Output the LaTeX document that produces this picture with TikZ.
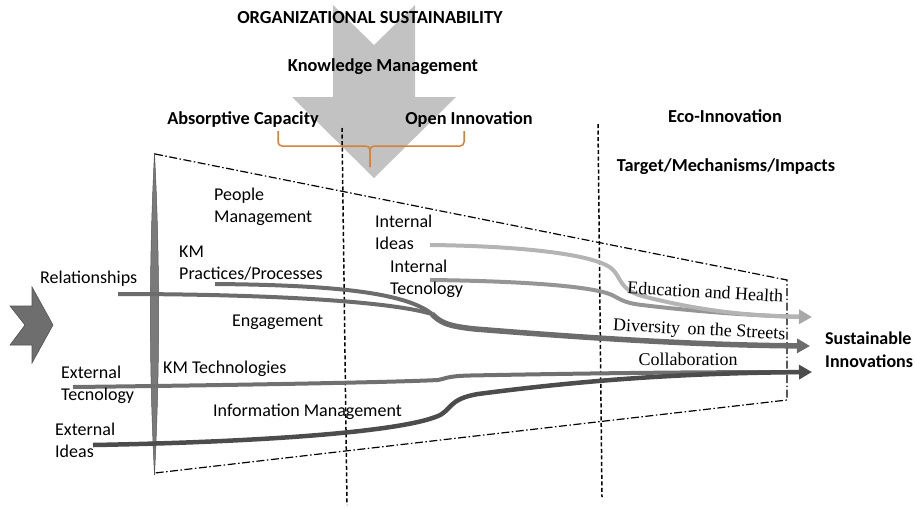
\documentclass[tikz,border=0pt]{standalone}
\usepackage{fontspec}
\setmainfont{Carlito}
\newfontfamily\outcomefont{Liberation Serif}
\usetikzlibrary{arrows.meta}

\definecolor{arrowgray}{HTML}{C2C2C2}
\definecolor{braceorange}{HTML}{D4823A}
\definecolor{lensgray}{HTML}{7A7A7A}
\definecolor{chevgray}{HTML}{6E6E6E}
\definecolor{cLight}{HTML}{B4B4B4}
\definecolor{cLightTip}{HTML}{A8A8A8}
\definecolor{cMid}{HTML}{959595}
\definecolor{cRel}{HTML}{6C6C6C}
\definecolor{cTech}{HTML}{707070}
\definecolor{cDark}{HTML}{4C4C4C}

\begin{document}
\begin{tikzpicture}[x=1pt,y=-1pt,
  lbl/.style={font=\fontsize{18}{21.5}\selectfont, inner sep=0pt, align=left, anchor=base west},
  ttl/.style={font=\fontsize{18.3}{21.5}\selectfont\bfseries, inner sep=0pt, anchor=base},
  outcome/.style={font=\outcomefont\fontsize{18}{21.5}\selectfont, inner sep=0pt, anchor=base},
  stream/.style={line width=4pt, line cap=butt},
  trunk/.style={line width=5.5pt, line cap=butt},
  tip/.style={-{Triangle[length=13pt,width=14pt]}},
  phase/.style={line width=1.5pt, dash pattern=on 4pt off 2.5pt},
  funnel/.style={line width=1.2pt, dash pattern=on 8pt off 2.5pt on 1.5pt off 2.5pt},
  brace/.style={draw=braceorange, line width=1.5pt, rounded corners=4pt}
]
\useasboundingbox (0,0) rectangle (915,507);

% big downward arrow of organizational sustainability
\fill[arrowgray] (333,5) -- (374,45) -- (415,5) -- (415,97) -- (456,97)
  -- (374,178) -- (292,97) -- (333,97) -- cycle;

% headings
\node[ttl, font=\fontsize{18.4}{20}\selectfont\bfseries] (orgsus) at (370,23) {ORGANIZATIONAL SUSTAINABILITY};
\node[ttl] (kmgmt) at (383,71) {Knowledge Management};
\node[ttl] (absorb) at (243,124) {Absorptive Capacity};
\node[ttl] (openinn) at (469,124) {Open Innovation};
\node[ttl] (ecoinn) at (725,122) {Eco-Innovation};
\node[ttl] (target) at (726,171) {Target/Mechanisms/Impacts};

% orange brace joining absorptive capacity and open innovation
\coordinate (brL) at (278,131);
\coordinate (brR) at (464,131);
\coordinate (brTip) at (370,167);
\draw[brace] (brL) -- (278,146) -- (370,146) -- (brTip);
\draw[brace] (brR) -- (464,146) -- (370,146) -- (brTip);

% phase separators
\coordinate (p1t) at (342,128);
\coordinate (p1b) at (347,505);
\coordinate (p2t) at (598,124);
\coordinate (p2b) at (602,497);
\draw[phase] (p1t) -- (p1b);
\draw[phase] (p2t) -- (p2b);

% funnel outline
\coordinate (fTL) at (155,154);
\coordinate (fTR) at (787,280);
\coordinate (fBR) at (787,400);
\coordinate (fBL) at (155,473);
\draw[funnel] (fTL) -- (fTR) -- (fBR) -- (fBL);

% lens at the funnel mouth
\filldraw[fill=lensgray, draw=lensgray!70!black, line width=0.5pt]
  (154.5,153) .. controls (160,260) and (160,368) .. (154.5,475)
  .. controls (149,368) and (149,260) .. cycle;

% entry chevron
\filldraw[fill=chevgray, draw=chevgray!75!black, line width=0.6pt]
  (10,306) -- (32,306) -- (32,287) -- (53,325) -- (32,363) -- (32,345)
  -- (10,345) -- (25,325) -- cycle;

% stream end points
\coordinate (relS) at (118,294);
\coordinate (kmpS) at (215,284);
\coordinate (merge) at (432,314);
\coordinate (iiS) at (430,245);
\coordinate (itS) at (430,280);
\coordinate (etS) at (73,387);
\coordinate (eiS) at (93,445);
\coordinate (tipEdu) at (812,317);
\coordinate (tipDiv) at (810,346);
\coordinate (tipCol) at (812,372);

% internal technology and internal ideas
\draw[stream, cMid, shorten >=11pt] (itS) .. controls (520,281) and (592,286) .. (612,295)
  .. controls (620,299) and (624,303) .. (642,305)
  .. controls (700,312) and (760,316) .. (tipEdu);
\draw[stream, cLight, -{Triangle[length=13pt,width=14pt,color=cLightTip]}]
  (iiS) .. controls (520,246) and (592,254) .. (611,268)
  .. controls (622,277) and (618,289) .. (642,296)
  .. controls (700,311) and (750,316) .. (tipEdu);

% relationships and KM practices merging
\draw[stream, cRel] (relS) .. controls (250,294) and (385,300) .. (merge);
\draw[stream, cRel] (kmpS) .. controls (330,285) and (405,292) .. (merge);
\draw[trunk, cRel, tip] (merge) .. controls (440,322) and (446,326) .. (475,329)
  .. controls (600,339) and (700,345) .. (tipDiv);

% external technology and external ideas
\draw[stream, cTech, shorten >=11pt] (etS) .. controls (250,385) and (400,382) .. (438,380)
  .. controls (445,379) and (446,376) .. (470,375.5)
  .. controls (600,373) and (700,372) .. (tipCol);
\draw[stream, cDark, line width=4.5pt, tip] (eiS) .. controls (260,442) and (400,432) .. (438,416)
  .. controls (452,410) and (448,399) .. (478,394)
  .. controls (600,378) and (700,373) .. (tipCol);

% stream labels (base anchor sits on the last line)
\node[lbl] (people) at (214,222) {People\\Management};
\node[lbl] (kmprac) at (179,279) {KM\\Practices/Processes};
\node[lbl] (relat) at (40,283) {Relationships};
\node[lbl] (engage) at (232,326) {Engagement};
\node[lbl] (kmtech) at (163,373) {KM Technologies};
\node[lbl] (exttech) at (61,400) {External\\Tecnology};
\node[lbl] (infom) at (213,416) {Information Management};
\node[lbl] (extideas) at (55,457) {External\\Ideas};
\node[lbl] (intideas) at (375,249) {Internal\\Ideas};
\node[lbl] (inttech) at (390,294) {Internal\\Tecnology};

% outcomes
\node[outcome, rotate=-3] (eduhealth) at (705,298) {Education and Health};
\node[outcome, rotate=-3] (diversity) at (699,335) {Diversity\, on the Streets};
\node[outcome] (collab) at (688,365) {Collaboration};
\node[lbl, font=\fontsize{18}{23}\selectfont\bfseries] (sustinn) at (825,367) {Sustainable\\Innovations};
\end{tikzpicture}
\end{document}
